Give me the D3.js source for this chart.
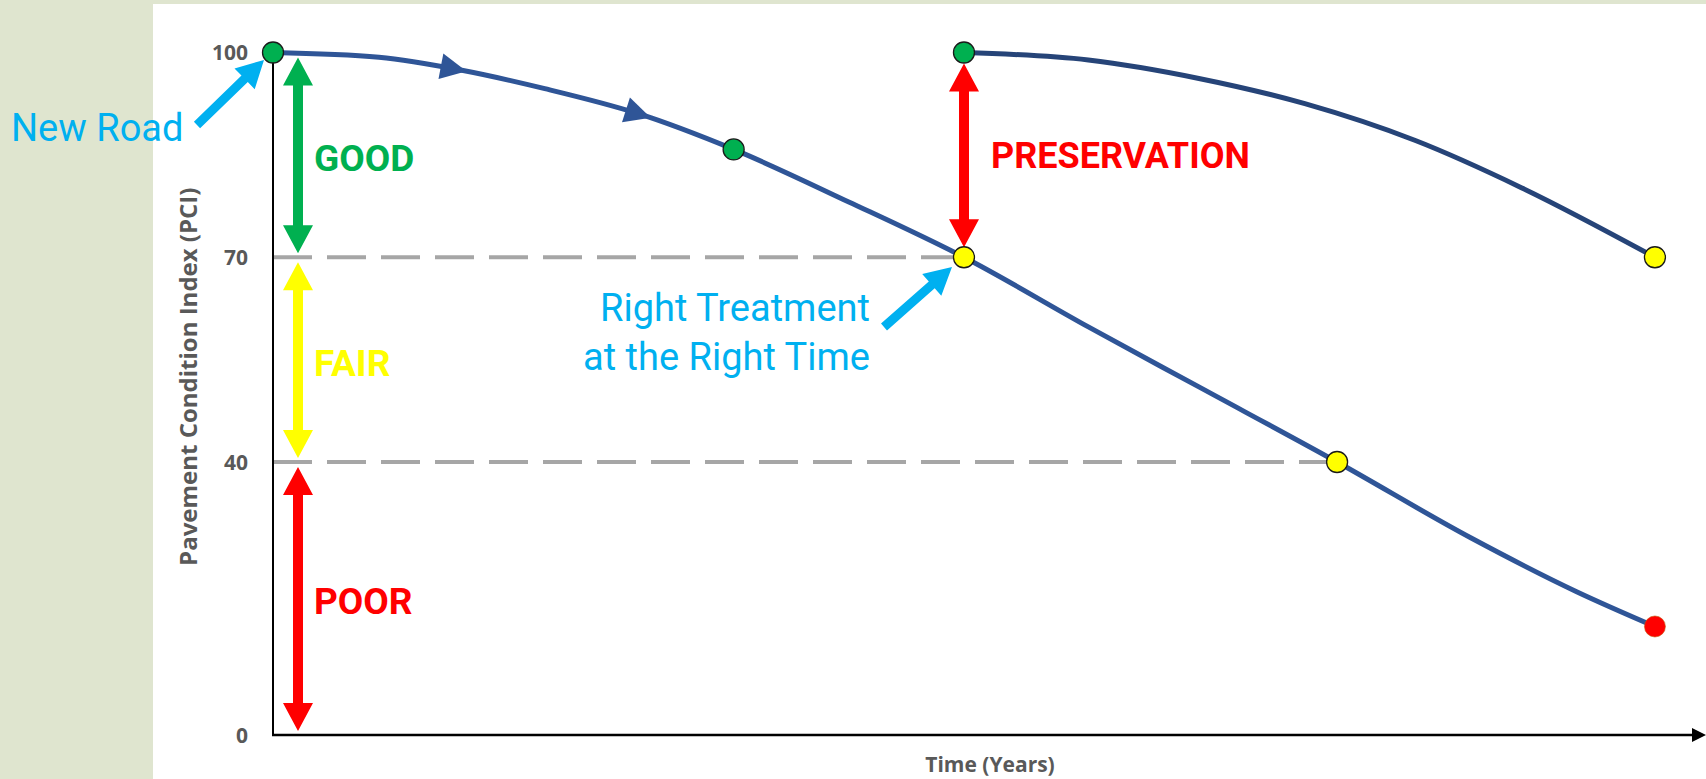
<!DOCTYPE html>
<html>
<head>
<meta charset="utf-8">
<script src="https://cdn.jsdelivr.net/npm/d3@7"></script>
<style>
  html, body { margin: 0; padding: 0; background: #dfe5cf; }
  svg { display: block; }
</style>
</head>
<body>
<div id="chart"></div>
<script>
// values (years are arbitrary units, no ticks on the x axis)
var yTicks = [0, 40, 70, 100];
var years1 = [0, 2.3, 4.1, 5.9, 7.9, 10, 12.5, 15, 17.7, 20.1, 23.1, 26, 28.3, 30];
var pci1 = [100, 99.3, 97.4, 94.7, 91.1, 85.8, 78.1, 70, 59.8, 51, 40, 28.9, 21, 15.9];
var years2 = [15, 17.7, 20.1, 22.4, 24.8, 27.1, 30];
var pci2 = [100, 98.9, 96.2, 92.5, 87.1, 80.2, 70];
var dotYears = [0, 10, 15, 23.1, 30, 15, 30];
var dotPci = [100, 85.8, 70, 40, 15.9, 100, 70];
var dotColors = ['#00b050', '#00b050', '#ffff00', '#ffff00', '#ff0000', '#00b050', '#ffff00'];
var thresholds = [70, 40];
var thresholdYears = [15, 23.1];
var zoneNames = ['GOOD', 'FAIR', 'POOR'];
var zoneTop = [100, 70, 40];
var zoneBottom = [70, 40, 0];
var zoneColors = ['#00b050', '#ffff00', '#ff0000'];
var flowYears = [4.2, 8.2];

var width = 1706,
    height = 779;

var x = d3.scaleLinear().domain([0, 31]).range([273, 1701]);
var y = d3.scaleLinear().domain([0, 100]).range([735, 52.5]);

var svg = d3.select('#chart').append('svg')
    .attr('width', width)
    .attr('height', height);

svg.append('rect').attr('width', width).attr('height', height).attr('fill', '#dfe5cf');
svg.append('rect').attr('x', 153).attr('y', 4)
   .attr('width', width - 153).attr('height', height - 4).attr('fill', '#fff');

// polygon for a straight arrow, one or two heads
function arrowPath(x1, y1, x2, y2, shaft, headW, headL, twoHeads) {
  var dx = x2 - x1, dy = y2 - y1, len = Math.sqrt(dx * dx + dy * dy);
  var ux = dx / len, uy = dy / len, nx = -uy, ny = ux;
  function p(t, s) { return [x1 + ux * t + nx * s, y1 + uy * t + ny * s]; }
  var pts = [];
  if (twoHeads) {
    pts.push(p(0, 0), p(headL, headW / 2), p(headL, shaft / 2));
  } else {
    pts.push(p(0, shaft / 2));
  }
  pts.push(p(len - headL, shaft / 2), p(len - headL, headW / 2), p(len, 0),
           p(len - headL, -headW / 2), p(len - headL, -shaft / 2));
  if (twoHeads) {
    pts.push(p(headL, -shaft / 2), p(headL, -headW / 2));
  } else {
    pts.push(p(0, -shaft / 2));
  }
  return 'M' + pts.map(function (d) { return d[0].toFixed(1) + ',' + d[1].toFixed(1); }).join('L') + 'Z';
}

// dashed threshold lines
svg.selectAll('.threshold')
   .data(thresholds)
   .enter()
   .append('line')
   .attr('class', 'threshold')
   .attr('x1', x(0))
   .attr('x2', (d, i) => x(thresholdYears[i]))
   .attr('y1', d => y(d))
   .attr('y2', d => y(d))
   .attr('stroke', '#a6a6a6')
   .attr('stroke-width', 4)
   .attr('stroke-dasharray', '39,15');

// axes
svg.append('line')
   .attr('x1', x(0)).attr('x2', x(0))
   .attr('y1', y(100)).attr('y2', y(0))
   .attr('stroke', '#000').attr('stroke-width', 2);
svg.append('line')
   .attr('x1', x(0) - 1).attr('x2', width - 10)
   .attr('y1', y(0)).attr('y2', y(0))
   .attr('stroke', '#000').attr('stroke-width', 2.5);
svg.append('path')
   .attr('d', 'M' + (width - 14) + ',' + (y(0) - 7) + 'L' + width + ',' + y(0) + 'L' + (width - 14) + ',' + (y(0) + 7) + 'Z')
   .attr('fill', '#000');

var yAxis = d3.axisLeft(y).tickValues(yTicks).tickSize(0).tickPadding(25);
var gy = svg.append('g')
   .attr('transform', 'translate(' + x(0) + ',0)')
   .call(yAxis);
gy.select('.domain').remove();
gy.selectAll('text')
  .attr('font-family', 'Open Sans')
  .attr('font-weight', 'bold')
  .attr('font-size', 21)
  .attr('fill', '#595959')
  .attr('dy', '0.35em');

svg.append('text')
   .attr('transform', 'translate(189,' + (y(50) - 17) + ') rotate(-90)')
   .attr('text-anchor', 'middle')
   .attr('dy', '0.35em')
   .attr('font-family', 'Open Sans')
   .attr('font-weight', 'bold')
   .attr('font-size', 24)
   .attr('fill', '#595959')
   .text('Pavement Condition Index (PCI)');

svg.append('text')
   .attr('x', 990).attr('y', 765)
   .attr('text-anchor', 'middle')
   .attr('dy', '0.35em')
   .attr('font-family', 'Open Sans')
   .attr('font-weight', 'bold')
   .attr('font-size', 21)
   .attr('fill', '#595959')
   .text('Time (Years)');

// zone arrows and labels
var zones = zoneNames.map((d, i) => ({name: d, top: zoneTop[i], bottom: zoneBottom[i], color: zoneColors[i]}));

svg.selectAll('.zone-arrow')
   .data(zones)
   .enter()
   .append('path')
   .attr('class', 'zone-arrow')
   .attr('d', d => arrowPath(298, y(d.top) + 5, 298, y(d.bottom) - 4, 10, 30, 28, true))
   .attr('fill', d => d.color);

svg.selectAll('.zone-label')
   .data(zones)
   .enter()
   .append('text')
   .attr('class', 'zone-label')
   .attr('x', 314)
   .attr('y', d => y((d.top + d.bottom) / 2) + 3)
   .attr('dy', '0.35em')
   .attr('font-family', 'Roboto')
   .attr('font-weight', 'bold')
   .attr('font-size', 37)
   .attr('fill', d => d.color)
   .text(d => d.name);

// preservation arrow
svg.append('path')
   .attr('d', arrowPath(x(15), y(100) + 11, x(15), y(70) - 10, 10, 30, 28, true))
   .attr('fill', '#ff0000');
svg.append('text')
   .attr('x', x(15) + 27)
   .attr('y', y(85) + 1)
   .attr('dy', '0.35em')
   .attr('font-family', 'Roboto')
   .attr('font-weight', 'bold')
   .attr('font-size', 36)
   .attr('fill', '#ff0000')
   .text('PRESERVATION');

// curves
var line = d3.line()
   .x(d => x(d[0]))
   .y(d => y(d[1]))
   .curve(d3.curveMonotoneX);

var curve1 = svg.append('path')
   .datum(d3.zip(years1, pci1))
   .attr('d', line)
   .attr('fill', 'none')
   .attr('stroke', '#2f5597')
   .attr('stroke-width', 5);

svg.append('path')
   .datum(d3.zip(years2, pci2))
   .attr('d', line)
   .attr('fill', 'none')
   .attr('stroke', '#264478')
   .attr('stroke-width', 5);

// direction heads on the first curve
var node = curve1.node(), total = node.getTotalLength();
function pointAtX(px) {
  var lo = 0, hi = total;
  for (var k = 0; k < 40; k++) {
    var mid = (lo + hi) / 2;
    if (node.getPointAtLength(mid).x < px) lo = mid; else hi = mid;
  }
  return lo;
}
flowYears.forEach(function (yr) {
  var l = pointAtX(x(yr));
  var a = node.getPointAtLength(l - 26), b = node.getPointAtLength(l);
  var ang = Math.atan2(b.y - a.y, b.x - a.x);
  var w = 13;
  var pts = [[b.x, b.y],
    [a.x - Math.sin(ang) * w, a.y + Math.cos(ang) * w],
    [a.x + Math.sin(ang) * w, a.y - Math.cos(ang) * w]];
  svg.append('path')
     .attr('d', 'M' + pts.join('L') + 'Z')
     .attr('fill', '#2f5597');
});

// dots
svg.selectAll('.dot')
   .data(dotYears)
   .enter()
   .append('circle')
   .attr('class', 'dot')
   .attr('cx', d => x(d))
   .attr('cy', (d, i) => y(dotPci[i]))
   .attr('r', 10.5)
   .attr('fill', (d, i) => dotColors[i])
   .attr('stroke', (d, i) => dotColors[i] == '#ff0000' ? '#c55a11' : '#1a1a1a')
   .attr('stroke-width', (d, i) => dotColors[i] == '#ff0000' ? 0.6 : 1.3);

// callouts
svg.append('path')
   .attr('d', arrowPath(197, 125, 264, 60, 9, 29, 27, false))
   .attr('fill', '#00b0f0');
svg.append('text')
   .attr('x', 11).attr('y', 128)
   .attr('dy', '0.35em')
   .attr('font-family', 'Roboto')
   .attr('font-size', 38)
   .attr('fill', '#00b0f0')
   .text('New Road');

svg.append('path')
   .attr('d', arrowPath(884, 327, 952, 267, 9, 29, 27, false))
   .attr('fill', '#00b0f0');
var rt = svg.append('text')
   .attr('text-anchor', 'end')
   .attr('font-family', 'Roboto')
   .attr('font-size', 38)
   .attr('fill', '#00b0f0');
rt.append('tspan').attr('x', 870).attr('y', 308).attr('dy', '0.35em').text('Right Treatment');
rt.append('tspan').attr('x', 870).attr('y', 357).attr('dy', '0.35em').text('at the Right Time');
</script>
</body>
</html>
